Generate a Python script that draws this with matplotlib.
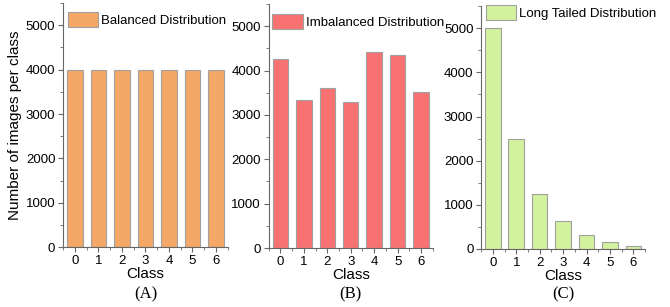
import matplotlib
matplotlib.use("Agg")
import matplotlib.pyplot as plt
from matplotlib.ticker import MultipleLocator

classes = [0, 1, 2, 3, 4, 5, 6]
balanced = [4000, 4000, 4000, 4000, 4000, 4000, 4000]
imbalanced = [4270, 3340, 3610, 3290, 4420, 4350, 3510]
long_tailed = [5000, 2500, 1250, 625, 312, 156, 78]

labels = ["Balanced Distribution", "Imbalanced Distribution", "Long Tailed Distribution"]
panel_tags = ["(A)", "(B)", "(C)"]
colors = ["#F4A766", "#F87272", "#D3F29D"]

plt.rcParams["font.family"] = ["Liberation Sans", "DejaVu Sans"]

fig = plt.figure(figsize=(6.7, 3.07), dpi=100)
boxes = [
    [0.094, 0.195, 0.246, 0.795],
    [0.401, 0.192, 0.245, 0.795],
    [0.718, 0.189, 0.245, 0.791],
]
# legend anchor (axes fraction) for each panel
legend_pos = [(0.02, 0.97), (0.015, 0.965), (0.02, 1.01)]
series = [balanced, imbalanced, long_tailed]

for i, (box, vals) in enumerate(zip(boxes, series)):
    ax = fig.add_axes(box)
    ax.bar(classes, vals, width=0.66, color=colors[i], edgecolor="#a0a0a0",
           linewidth=0.8, label=labels[i])
    ax.set_xlim(-0.5, 6.5)
    ax.set_ylim(0, 5500)
    ax.set_xticks(classes)
    ax.set_yticks([0, 1000, 2000, 3000, 4000, 5000])
    ax.yaxis.set_minor_locator(MultipleLocator(500))
    ax.xaxis.set_minor_locator(MultipleLocator(0.5))
    for side in ["top", "right"]:
        ax.spines[side].set_visible(False)
    for side in ["left", "bottom"]:
        ax.spines[side].set_color("#666666")
        ax.spines[side].set_linewidth(0.8)
    ax.tick_params(which="major", direction="out", length=3.5, width=0.8,
                   color="#666666", labelsize=9.5, pad=2)
    ax.tick_params(which="minor", direction="out", length=2, width=0.6,
                   color="#666666")
    ax.set_xlabel("Class", fontsize=11, labelpad=0)
    ax.legend(loc="upper left", bbox_to_anchor=legend_pos[i], frameon=False,
              fontsize=9.5, handlelength=2.3, handleheight=1.4,
              handletextpad=0.25, borderaxespad=0, borderpad=0.1)
    cx = box[0] + box[2] / 2
    fig.text(cx, 0.015, panel_tags[i], ha="center", va="bottom", fontsize=12,
             family=["Liberation Serif", "DejaVu Serif"])
    if i == 0:
        ax.set_ylabel("Number of images per class", fontsize=11, labelpad=3)

fig.savefig("out.png", dpi=100)
